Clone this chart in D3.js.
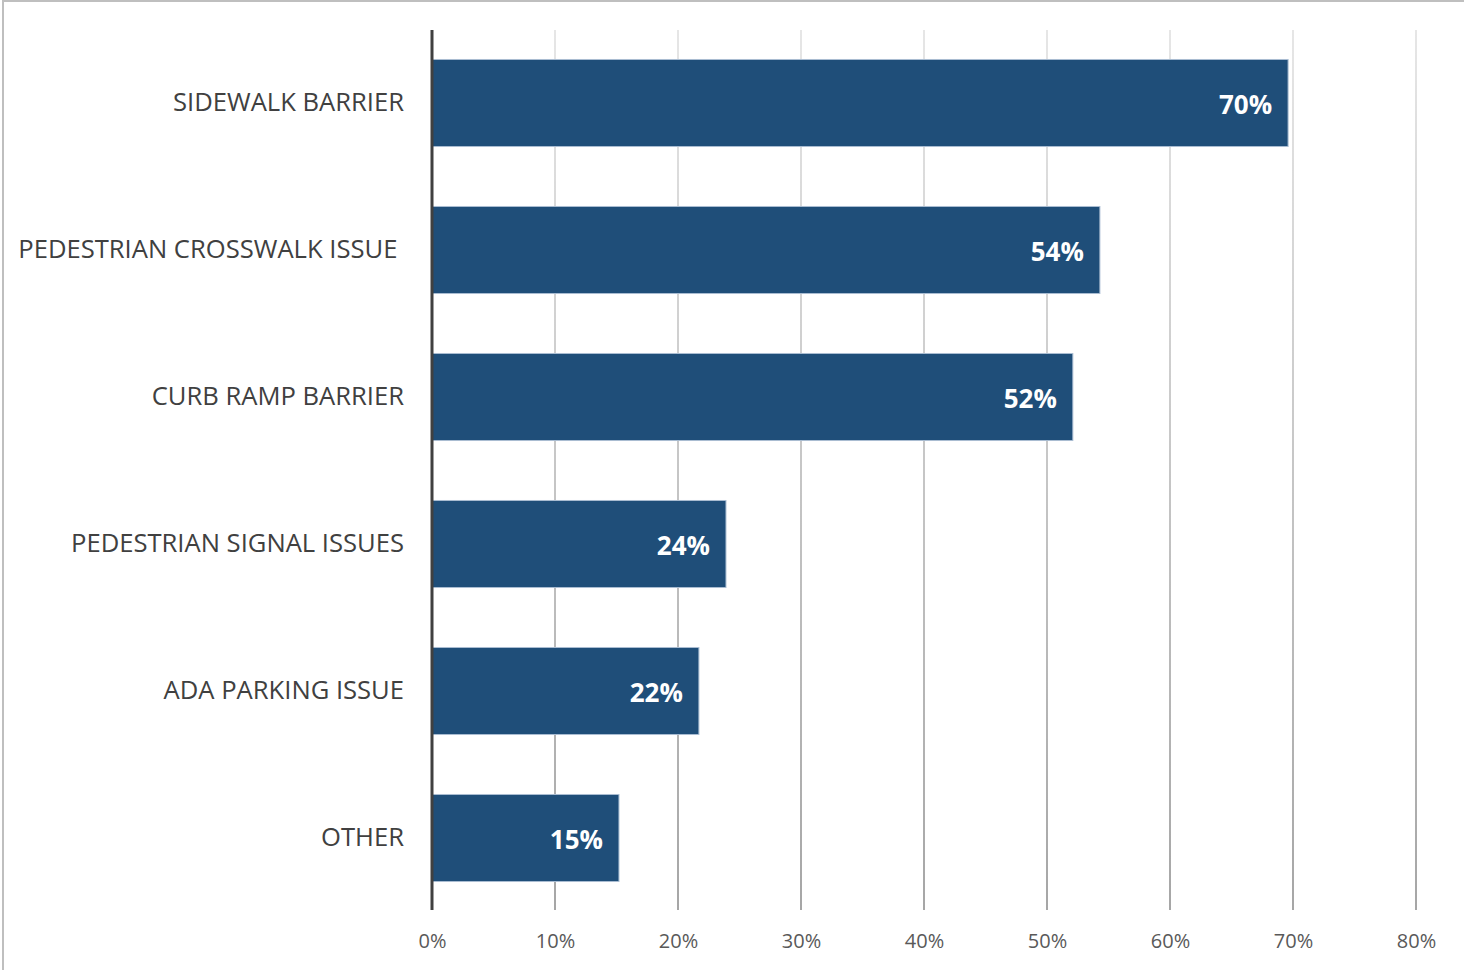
<!DOCTYPE html>
<html>
<head>
<meta charset="utf-8">
<script src="https://cdn.jsdelivr.net/npm/d3@7"></script>
<style>
  html, body { margin: 0; padding: 0; background: #fff; }
  svg { display: block; }
  text { font-family: "Open Sans", "Noto Sans", sans-serif; }
</style>
</head>
<body>
<svg id="chart" width="1464" height="970"></svg>
<script>
// Reported accessibility issues, share of responses
const categories = [
  "SIDEWALK BARRIER",
  "PEDESTRIAN CROSSWALK ISSUE ",
  "CURB RAMP BARRIER",
  "PEDESTRIAN SIGNAL ISSUES",
  "ADA PARKING ISSUE",
  "OTHER"
];
const values = [0.696, 0.543, 0.521, 0.239, 0.217, 0.152];
const tickValues = [0, 0.1, 0.2, 0.3, 0.4, 0.5, 0.6, 0.7, 0.8];

const svg = d3.select("#chart");
const W = 1464, H = 970;

const x = d3.scaleLinear().domain([0, 0.8]).range([432, 1416]);
const y = d3.scaleBand()
  .domain(categories)
  .range([29.5, 911.5])
  .paddingInner(0.408)
  .paddingOuter(0.204);

const plotTop = 30, plotBottom = 910;

// outer frame
svg.append("line").attr("x1", 3).attr("x2", W).attr("y1", 1).attr("y2", 1)
  .attr("stroke", "#bfbfbf").attr("stroke-width", 2);
svg.append("line").attr("x1", 3).attr("x2", 3).attr("y1", 0).attr("y2", H)
  .attr("stroke", "#bfbfbf").attr("stroke-width", 2);

// gridlines fade from light at the top to mid grey at the bottom
const defs = svg.append("defs");
const grad = defs.append("linearGradient")
  .attr("id", "gridFade")
  .attr("gradientUnits", "userSpaceOnUse")
  .attr("x1", 0).attr("y1", plotTop).attr("x2", 0).attr("y2", plotBottom);
grad.append("stop").attr("offset", "0%").attr("stop-color", "#e6e6e6");
grad.append("stop").attr("offset", "100%").attr("stop-color", "#a6a6a6");

svg.append("g").selectAll("rect")
  .data(tickValues.slice(1))
  .join("rect")
  .attr("x", d => Math.round(x(d)) - 1)
  .attr("width", 2)
  .attr("y", plotTop)
  .attr("height", plotBottom - plotTop)
  .attr("fill", "url(#gridFade)");

// bars
svg.append("g").selectAll("rect")
  .data(values)
  .join("rect")
  .attr("x", x(0))
  .attr("y", (d, i) => y(categories[i]))
  .attr("width", d => x(d) - x(0))
  .attr("height", y.bandwidth())
  .attr("fill", "#1f4e79")
  .attr("stroke", "#a9bdd2")
  .attr("stroke-width", 1);

// value labels inside bar ends
svg.append("g").selectAll("text")
  .data(values)
  .join("text")
  .attr("x", d => x(d) - 16)
  .attr("y", (d, i) => y(categories[i]) + y.bandwidth() / 2 + 1)
  .attr("text-anchor", "end")
  .attr("dominant-baseline", "central")
  .attr("fill", "#ffffff")
  .attr("font-weight", 700)
  .attr("font-size", 26)
  .text(d => Math.round(d * 100) + "%");

// category axis
const yAxis = svg.append("g")
  .attr("transform", `translate(${x(0)},0)`)
  .call(d3.axisLeft(y).tickSize(0).tickPadding(28));
yAxis.select(".domain").remove();
yAxis.selectAll("text")
  .attr("font-family", null)
  .attr("font-size", 25.6)
  .attr("fill", "#404040")
  .style("white-space", "pre");

// value axis labels
const xAxis = svg.append("g")
  .attr("transform", `translate(0,${plotBottom})`)
  .call(d3.axisBottom(x).tickValues(tickValues).tickFormat(d3.format(".0%")).tickSize(0).tickPadding(24));
xAxis.select(".domain").remove();
xAxis.selectAll("text")
  .attr("font-family", null)
  .attr("font-size", 20)
  .attr("fill", "#595959");

// zero baseline
svg.append("line")
  .attr("x1", x(0)).attr("x2", x(0))
  .attr("y1", plotTop).attr("y2", plotBottom)
  .attr("stroke", "#404040").attr("stroke-width", 3);
</script>
</body>
</html>
